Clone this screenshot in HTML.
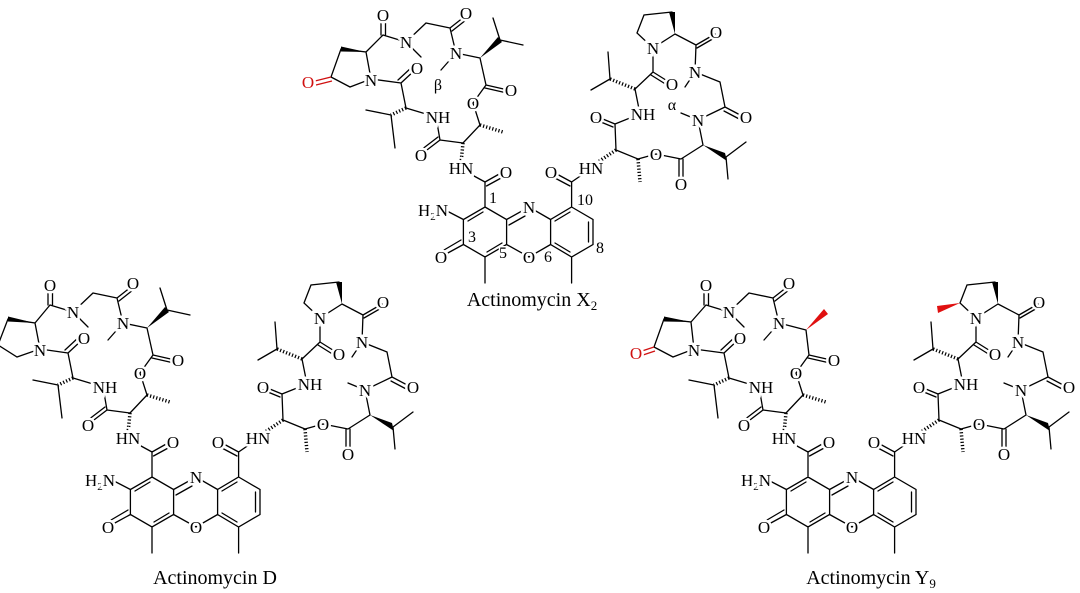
<!DOCTYPE html>
<html><head><meta charset="utf-8"><style>
html,body{margin:0;padding:0;background:#fff;}
svg{display:block;}
.b{stroke:#000;stroke-width:1.3;fill:none;stroke-linecap:round;}
.h{stroke:#000;stroke-width:3.5;fill:none;stroke-dasharray:1.2 2;}
.r{stroke:#d01010;stroke-width:1.3;fill:none;}
text{font-family:"Liberation Serif",serif;font-size:17px;text-anchor:middle;paint-order:stroke;stroke:#fff;stroke-width:5px;fill:#000;}
text.l{font-size:20px;stroke-width:0;}
text.n{font-size:16px;stroke-width:3px;}
</style></head><body>
<svg width="1080" height="593" viewBox="0 0 1080 593" xmlns="http://www.w3.org/2000/svg">

<!-- ===== Actinomycin D ===== -->
<g transform="translate(0,0)">
<path class="b" d="M152,477 L173.6,489.5 L173.6,514.5 L152,527 L130.4,514.5 L130.4,489.5 Z M238.6,477 L260,489.5 L260,514.5 L238.6,527 L217.6,514.5 L217.6,489.5 Z M173.6,489.5 L196,477 L217.6,489.5 M173.6,514.5 L196,527 L217.6,514.5 M150,482 L135,491 M154,522 L169,513 M222,491 L237,482 M255.5,492 L255.5,512 M237,522 L222,513 M176,495 L192,486 M152,477 L152,452 M152,452 L168,443 M153.5,456 L170,447 M152,452 L130,440 M130.4,489.5 L114,481 M130.4,514.5 L113,524 M128,510 L111,520 M152,527 L152,553 M238.6,477 L238.6,452 M238.6,452 L222,443 M237,456 L220,447 M238.6,452 L256,440 M238.6,527 L238.6,553"/>
<path class="b" d="M8,319 L35,323 L40,349 L17,357 L-2,345 Z M35,323 L50,305 M48,305 L48,290 M52.5,305 L52.5,290 M50,305 L73,312 M73,312 L88,327 M73,312 L93,293 M93,293 L117,298 M117,298 L131,287 M119,301 L133,290 M117,298 L123,323 M123,323 L108,340 M123,323 L147,328 M167,310 L160,288 M167,310 L190,315 M147,328 L153,355 M153,355 L175,360 M152,358 L174,363 M153,355 L140,373 M140,373 L147,395 M147,395 L130,413 M130,413 L107,410 M107,410 L90,423 M105,407 L88,420 M107,410 L103,387 M103,387 L73,378 M58,385 L33,380 M58,385 L62,418 M73,378 L68,353 M68,353 L82,340 M65,350 L79,337 M68,353 L40,349"/>
<polygon points="35,323 8,316.5 8,321.5" fill="#000"/>
<polygon points="147,328 165,307 169,312" fill="#000"/>
<path class="h" d="M147,395 L170,402 M130,413 L128,433 M73,378 L58,385"/>
<path class="b" d="M339,282 L311,285 L304,303 L320,318 L342,304 M342,304 L363,315 M363,315 L382,304 M364,318 L383,307 M363,315 L362,342 M362,342 L352,357 M362,342 L387,352 M387,352 L392,377 M392,377 L411,387 M391,381 L410,391 M392,377 L365,390 M365,390 L348,383 M365,390 L370,415 M393,427 L413,412 M393,427 L395,449 M370,415 L348,429 M346,429 L346,450 M350,429 L350,450 M348,429 L323,424 M323,424 L305,429 M305,429 L283,420 M283,420 L282,394 M282,394 L265,387 M280,397 L263,390 M282,394 L307,384 M307,384 L302,359 M277,349 L275,322 M277,349 L258,360 M302,359 L320,342 M320,342 L336,352 M318,345 L334,355 M320,342 L320,318"/>
<polygon points="342,304 336,282 342,282" fill="#000"/>
<polygon points="370,415 392,423 394,431" fill="#000"/>
<path class="h" d="M305,429 L307,452 M283,420 L262,434 M302,359 L277,349"/>
<text x="128" y="444">HN</text><text x="173" y="448">O</text>
<text x="100" y="486">H<tspan font-size="11" dy="4">2</tspan><tspan dy="-4">N</tspan></text>
<text x="196" y="483">N</text><text x="108" y="533">O</text><text x="196" y="533">O</text>
<text x="218" y="448">O</text><text x="258" y="444">HN</text>
<text x="50" y="291">O</text><text x="73" y="318">N</text><text x="133" y="289">O</text><text x="123" y="329">N</text>
<text x="40" y="356">N</text><text x="84" y="344">O</text>
<text x="178" y="366">O</text><text x="140" y="379">O</text><text x="88" y="431">O</text><text x="105" y="393">NH</text>
<text x="320" y="324">N</text><text x="383" y="308">O</text><text x="362" y="348">N</text><text x="413" y="393">O</text>
<text x="339" y="360">O</text>
<text x="365" y="396">N</text><text x="348" y="460">O</text><text x="323" y="430">O</text><text x="263" y="393">O</text><text x="310" y="390">NH</text>
</g>
<text class="l" x="215" y="584">Actinomycin D</text>

<!-- ===== Actinomycin X2 ===== -->
<g transform="translate(333,-270)">
<path class="b" d="M152,477 L173.6,489.5 L173.6,514.5 L152,527 L130.4,514.5 L130.4,489.5 Z M238.6,477 L260,489.5 L260,514.5 L238.6,527 L217.6,514.5 L217.6,489.5 Z M173.6,489.5 L196,477 L217.6,489.5 M173.6,514.5 L196,527 L217.6,514.5 M150,482 L135,491 M154,522 L169,513 M222,491 L237,482 M255.5,492 L255.5,512 M237,522 L222,513 M176,495 L192,486 M152,477 L152,452 M152,452 L168,443 M153.5,456 L170,447 M152,452 L130,440 M130.4,489.5 L114,481 M130.4,514.5 L113,524 M128,510 L111,520 M152,527 L152,553 M238.6,477 L238.6,452 M238.6,452 L222,443 M237,456 L220,447 M238.6,452 L256,440 M238.6,527 L238.6,553"/>
<path class="b" d="M8,319 L33,322 L38,349 L17,357 L-2,347 Z M33,322 L50,305 M48,305 L48,290 M52.5,305 L52.5,290 M50,305 L73,312 M73,312 L88,327 M73,312 L93,293 M93,293 L117,298 M117,298 L131,287 M119,301 L133,290 M117,298 L123,323 M123,323 L108,340 M123,323 L147,328 M167,310 L160,288 M167,310 L190,315 M147,328 L153,355 M153,355 L175,360 M152,358 L174,363 M153,355 L140,373 M140,373 L147,395 M147,395 L130,413 M130,413 L107,410 M107,410 L90,423 M105,407 L88,420 M107,410 L103,387 M103,387 L73,378 M58,385 L33,380 M58,385 L62,418 M73,378 L68,353 M68,353 L82,340 M65,350 L79,337 M68,353 L38,349"/>
<path class="r" d="M-2,347 L-18,351 M-1,351 L-17,355"/>
<polygon points="33,322 8,316.5 8,321.5" fill="#000"/>
<polygon points="147,328 165,307 169,312" fill="#000"/>
<path class="h" d="M147,395 L170,402 M130,413 L128,433 M73,378 L58,385"/>
<path class="b" d="M339,282 L311,285 L304,303 L320,318 L342,304 M342,304 L363,315 M363,315 L382,304 M364,318 L383,307 M363,315 L362,342 M362,342 L352,357 M362,342 L387,352 M387,352 L392,377 M392,377 L411,387 M391,381 L410,391 M392,377 L365,390 M365,390 L348,383 M365,390 L370,415 M393,427 L413,412 M393,427 L395,449 M370,415 L348,429 M346,429 L346,450 M350,429 L350,450 M348,429 L323,424 M323,424 L305,429 M305,429 L283,420 M283,420 L282,394 M282,394 L265,387 M280,397 L263,390 M282,394 L307,384 M307,384 L302,359 M277,349 L275,322 M277,349 L258,360 M302,359 L320,342 M320,342 L336,352 M318,345 L334,355 M320,342 L320,318"/>
<polygon points="342,304 336,282 342,282" fill="#000"/>
<polygon points="370,415 392,423 394,431" fill="#000"/>
<path class="h" d="M305,429 L307,452 M283,420 L262,434 M302,359 L277,349"/>
<text x="128" y="444">HN</text><text x="173" y="448">O</text>
<text x="100" y="486">H<tspan font-size="11" dy="4">2</tspan><tspan dy="-4">N</tspan></text>
<text x="196" y="483">N</text><text x="108" y="533">O</text><text x="196" y="533">O</text>
<text x="218" y="448">O</text><text x="258" y="444">HN</text>
<text x="-25" y="358" style="fill:#d01010">O</text>
<text x="50" y="291">O</text><text x="73" y="318">N</text><text x="133" y="289">O</text><text x="123" y="329">N</text>
<text x="38" y="356">N</text><text x="84" y="344">O</text>
<text x="178" y="366">O</text><text x="140" y="379">O</text><text x="88" y="431">O</text><text x="105" y="393">NH</text>
<text x="320" y="324">N</text><text x="383" y="308">O</text><text x="362" y="348">N</text><text x="413" y="393">O</text>
<text x="339" y="360">O</text>
<text x="365" y="396">N</text><text x="348" y="460">O</text><text x="323" y="430">O</text><text x="263" y="393">O</text><text x="310" y="390">NH</text>
</g>
<text class="n" x="493" y="203">1</text><text class="n" x="472" y="242">3</text>
<text class="n" x="503" y="258">5</text><text class="n" x="548" y="262">6</text>
<text class="n" x="600" y="253">8</text><text class="n" x="585" y="205">10</text>
<text class="n" x="438" y="90">β</text><text class="n" x="672" y="110">α</text>
<text class="l" x="532" y="306">Actinomycin X<tspan font-size="13" dy="4">2</tspan></text>

<!-- ===== Actinomycin Y9 ===== -->
<g transform="translate(656,0)">
<path class="b" d="M152,477 L173.6,489.5 L173.6,514.5 L152,527 L130.4,514.5 L130.4,489.5 Z M238.6,477 L260,489.5 L260,514.5 L238.6,527 L217.6,514.5 L217.6,489.5 Z M173.6,489.5 L196,477 L217.6,489.5 M173.6,514.5 L196,527 L217.6,514.5 M150,482 L135,491 M154,522 L169,513 M222,491 L237,482 M255.5,492 L255.5,512 M237,522 L222,513 M176,495 L192,486 M152,477 L152,452 M152,452 L168,443 M153.5,456 L170,447 M152,452 L130,440 M130.4,489.5 L114,481 M130.4,514.5 L113,524 M128,510 L111,520 M152,527 L152,553 M238.6,477 L238.6,452 M238.6,452 L222,443 M237,456 L220,447 M238.6,452 L256,440 M238.6,527 L238.6,553"/>
<path class="b" d="M8,319 L35,322 L38,349 L17,357 L-2,347 Z M35,322 L50,305 M48,305 L48,290 M52.5,305 L52.5,290 M50,305 L73,312 M73,312 L88,327 M73,312 L93,293 M93,293 L117,298 M117,298 L131,287 M119,301 L133,290 M117,298 L123,323 M123,323 L108,340 M123,323 L150,330 M150,330 L153,355 M153,355 L175,360 M152,358 L174,363 M153,355 L140,373 M140,373 L147,395 M147,395 L130,413 M130,413 L107,410 M107,410 L90,423 M105,407 L88,420 M107,410 L103,387 M103,387 L73,378 M58,385 L33,380 M58,385 L62,418 M73,378 L68,353 M68,353 L82,340 M65,350 L79,337 M68,353 L38,349"/>
<path class="r" d="M-2,347 L-14,351 M-1,351 L-13,355"/>
<polygon points="35,322 8,316.5 8,321.5" fill="#000"/>
<polygon points="150,330 168,309 172,314" fill="#e01010"/>
<path class="h" d="M147,395 L170,402 M130,413 L128,433 M73,378 L58,385"/>
<path class="b" d="M339,282 L311,285 L304,303 L320,318 L342,304 M342,304 L363,315 M363,315 L382,304 M364,318 L383,307 M363,315 L362,342 M362,342 L352,357 M362,342 L387,352 M387,352 L392,377 M392,377 L411,387 M391,381 L410,391 M392,377 L365,390 M365,390 L348,383 M365,390 L370,415 M393,427 L413,412 M393,427 L395,449 M370,415 L348,429 M346,429 L346,450 M350,429 L350,450 M348,429 L323,424 M323,424 L305,429 M305,429 L283,420 M283,420 L282,394 M282,394 L265,387 M280,397 L263,390 M282,394 L307,384 M307,384 L302,359 M277,349 L275,322 M277,349 L258,360 M302,359 L320,342 M320,342 L336,352 M318,345 L334,355 M320,342 L320,318"/>
<polygon points="342,304 336,282 342,282" fill="#000"/>
<polygon points="304,303 281,306 282,313" fill="#e01010"/>
<polygon points="370,415 392,423 394,431" fill="#000"/>
<path class="h" d="M305,429 L307,452 M283,420 L262,434 M302,359 L277,349"/>
<text x="128" y="444">HN</text><text x="173" y="448">O</text>
<text x="100" y="486">H<tspan font-size="11" dy="4">2</tspan><tspan dy="-4">N</tspan></text>
<text x="196" y="483">N</text><text x="108" y="533">O</text><text x="196" y="533">O</text>
<text x="218" y="448">O</text><text x="258" y="444">HN</text>
<text x="-20" y="359" style="fill:#d01010">O</text>
<text x="50" y="291">O</text><text x="73" y="318">N</text><text x="133" y="289">O</text><text x="123" y="329">N</text>
<text x="38" y="356">N</text><text x="84" y="344">O</text>
<text x="178" y="366">O</text><text x="140" y="379">O</text><text x="88" y="431">O</text><text x="105" y="393">NH</text>
<text x="320" y="324">N</text><text x="383" y="308">O</text><text x="362" y="348">N</text><text x="413" y="393">O</text>
<text x="339" y="360">O</text>
<text x="365" y="396">N</text><text x="348" y="460">O</text><text x="323" y="430">O</text><text x="263" y="393">O</text><text x="310" y="390">NH</text>
</g>
<text class="l" x="871" y="584">Actinomycin Y<tspan font-size="13" dy="4">9</tspan></text>
</svg>
</body></html>
